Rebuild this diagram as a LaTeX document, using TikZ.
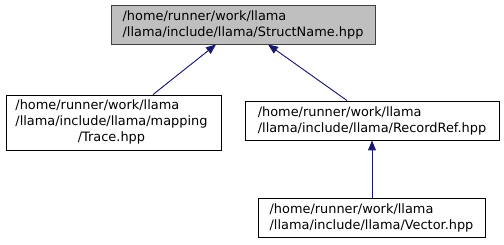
\documentclass[tikz,border=0pt]{standalone}
\usepackage{fontspec}
\setmainfont{DejaVu Sans}
\usepackage{tikz}
\usetikzlibrary{arrows.meta, positioning}
\definecolor{edgeBlue}{HTML}{191970}
\definecolor{boxGray}{HTML}{BFBFBF}
\definecolor{lineGray}{HTML}{404040}
\tikzset{
    file_box/.style={
        rectangle, draw=black, line width=0.9pt, fill=white,
        inner xsep=4pt, inner ysep=3pt, align=left,
        font=\fontsize{12.9}{16}\selectfont
    },
    file_box_main/.style={
        file_box, draw=lineGray, fill=boxGray
    },
    incl_arrow/.style={
        -{Triangle[length=10pt, width=8pt]}, draw=edgeBlue, fill=edgeBlue, line width=0.9pt
    }
}

\begin{document}
\begin{tikzpicture}[x=1pt, y=-1pt]

    \useasboundingbox (0,0) rectangle (504,245);

    % Header the others include
    \node[file_box_main, minimum width=264pt, minimum height=39pt] (structname) at (243, 24.5) {
        /home/runner/work/llama\\/llama/include/llama/StructName.hpp
    };

    % Direct includers
    \node[file_box, minimum width=215pt, minimum height=55pt] (trace) at (113.5, 122.5) {
        \begin{tabular}{@{}l@{}}
            /home/runner/work/llama\\
            /llama/include/llama/mapping\\
            \multicolumn{1}{@{}c@{}}{/Trace.hpp}
        \end{tabular}
    };
    \node[file_box, minimum width=254pt, minimum height=39pt] (recordref) at (372, 120.5) {
        /home/runner/work/llama\\/llama/include/llama/RecordRef.hpp
    };

    % Indirect includer
    \node[file_box, minimum width=227pt, minimum height=39pt] (vector) at (371.5, 217.5) {
        /home/runner/work/llama\\/llama/include/llama/Vector.hpp
    };

    % Include edges
    \draw[incl_arrow] ([xshift=39.5pt]trace.north) -- ([xshift=-27pt]structname.south);
    \draw[incl_arrow] ([xshift=-25pt]recordref.north) -- ([xshift=25pt]structname.south);
    \draw[incl_arrow] (vector.north -| recordref.south) -- (recordref.south);

\end{tikzpicture}
\end{document}
